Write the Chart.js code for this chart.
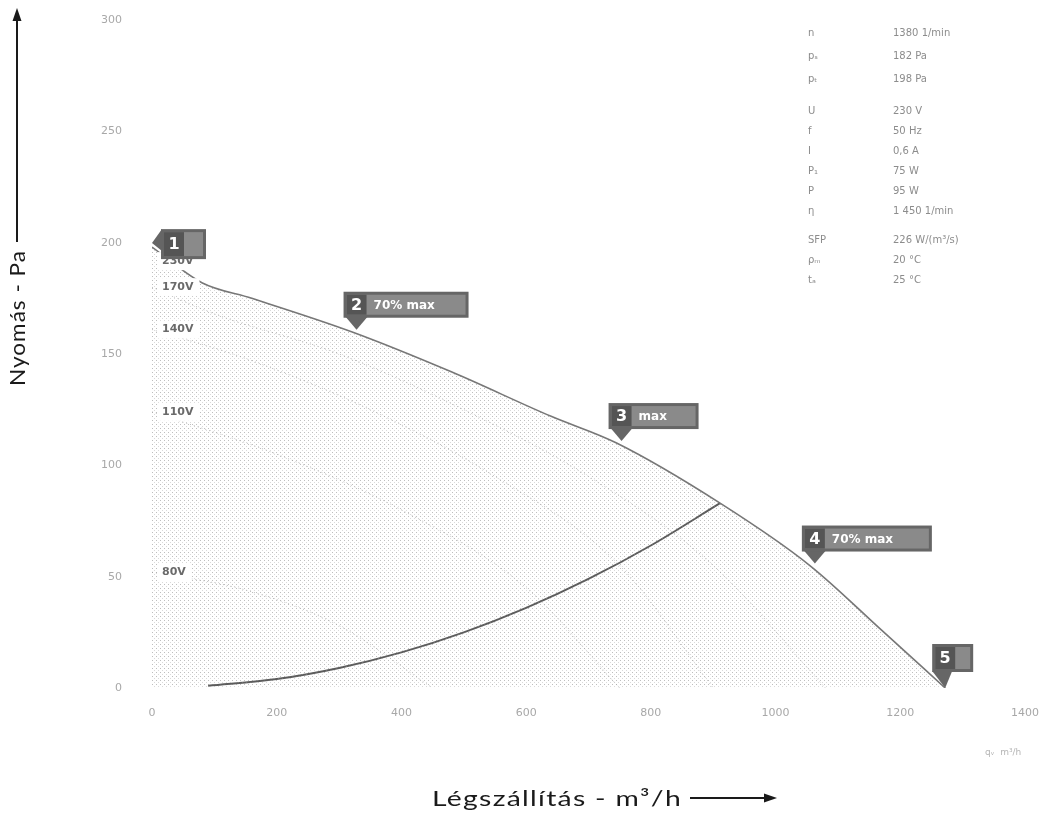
<!DOCTYPE html>
<html>
<head>
<meta charset="utf-8">
<script src="https://cdn.jsdelivr.net/npm/chart.js@4.4.1/dist/chart.umd.min.js"></script>
<style>
  html, body { margin: 0; padding: 0; background: #fff; }
  canvas { display: block; }
</style>
</head>
<body>
<canvas id="fanChart" width="1044" height="814"></canvas>
<script>
// Fan curve at 230V (air flow m3/h, pressure Pa)
var flow230 = [0, 80, 160, 320, 480, 640, 745, 911, 1055, 1170, 1272];
var pres230 = [198, 182, 175, 160, 142, 122, 110, 83, 55, 26, 0];

// Reduced voltage curves
var voltNames = ['170V', '140V', '110V', '80V'];
var voltFlow = [
    [0, 100, 300, 500, 700, 900, 1080],
    [0, 150, 350, 550, 750, 900],
    [0, 200, 400, 600, 750],
    [0, 150, 300, 450]
];
var voltPres = [
    [180, 168, 150, 125, 95, 55, 0],
    [161, 148, 125, 95, 55, 0],
    [124, 105, 80, 45, 0],
    [52, 44, 28, 0]
];

// System curve
var sysFlow = [90, 200, 300, 400, 500, 600, 700, 800, 911];
var sysPres = [1, 4, 9, 16, 25, 36, 49, 64, 83];

// Operating point callouts (index into the 230V curve)
var calloutNums = ['1', '2', '3', '4', '5'];
var calloutText = ['', '70% max', 'max', '70% max', ''];
var calloutIdx = [0, 3, 6, 8, 10];

// Data table (top right)
var tableLabels = ['n', 'pₛ', 'pₜ', '', 'U', 'f', 'I', 'P₁', 'P', 'η', '', 'SFP', 'ρₘ', 'tₐ'];
var tableValues = ['1380 1/min', '182 Pa', '198 Pa', '', '230 V', '50 Hz', '0,6 A', '75 W', '95 W', '1 450 1/min', '', '226 W/(m³/s)', '20 °C', '25 °C'];

var xTicks = [0, 200, 400, 600, 800, 1000, 1200, 1400];
var yTicks = [0, 50, 100, 150, 200, 250, 300];

function toPoints(xs, ys) {
    var pts = [];
    for (var i = 0; i < xs.length; i++) pts.push({ x: xs[i], y: ys[i] });
    return pts;
}

// dotted fill pattern
var tile = document.createElement('canvas');
tile.width = 4; tile.height = 4;
var tctx = tile.getContext('2d');
tctx.fillStyle = 'rgba(110,110,110,0.45)';
tctx.fillRect(0, 0, 1, 1);
tctx.fillStyle = 'rgba(150,150,150,0.35)';
tctx.fillRect(2, 2, 1, 1);
var ctx = document.getElementById('fanChart').getContext('2d');
var dotPattern = ctx.createPattern(tile, 'repeat');

var datasets = [];
for (var v = 0; v < voltNames.length; v++) {
    datasets.push({
        label: voltNames[v],
        data: toPoints(voltFlow[v], voltPres[v]),
        borderColor: 'rgba(140,140,140,0.6)',
        borderWidth: 1,
        borderDash: [1, 3],
        pointRadius: 0,
        cubicInterpolationMode: 'monotone',
        fill: false
    });
}
datasets.push({
    label: '230V',
    data: toPoints(flow230, pres230),
    borderColor: '#777',
    borderWidth: 1.6,
    backgroundColor: dotPattern,
    pointRadius: 0,
    cubicInterpolationMode: 'monotone',
    fill: 'origin'
});
datasets.push({
    label: 'system',
    data: toPoints(sysFlow, sysPres),
    borderColor: '#5c5c5c',
    borderWidth: 2,
    pointRadius: 0,
    cubicInterpolationMode: 'monotone',
    fill: false
});

function arrowHead(c, x, y, dir) {
    c.beginPath();
    if (dir === 'up') {
        c.moveTo(x, y); c.lineTo(x - 4.5, y + 13); c.lineTo(x + 4.5, y + 13);
    } else {
        c.moveTo(x, y); c.lineTo(x - 13, y - 4.5); c.lineTo(x - 13, y + 4.5);
    }
    c.closePath();
    c.fill();
}

// draw text stretched to a given width (wide geometric look)
function fitText(c, text, x, y, width) {
    c.save();
    c.letterSpacing = '1px';
    var w = c.measureText(text).width;
    c.translate(x, y);
    c.scale(width / w, 1);
    c.fillText(text, 0, 0);
    c.restore();
}

var overlay = {
    id: 'overlay',
    afterDatasetsDraw: function (chart) {
        var c = chart.ctx;
        var xs = chart.scales.x, ys = chart.scales.y;
        c.save();

        // voltage labels with white background
        c.font = 'bold 11px "DejaVu Sans"';
        c.textBaseline = 'middle';
        c.textAlign = 'left';
        var lblX = xs.getPixelForValue(0) + 10;
        var labels = ['230V'].concat(voltNames);
        var starts = [pres230[0]];
        for (var v = 0; v < voltPres.length; v++) starts.push(voltPres[v][0]);
        for (var i = 0; i < labels.length; i++) {
            var ly = ys.getPixelForValue(starts[i]) + (i === 0 ? 14 : 0);
            var w = c.measureText(labels[i]).width;
            c.fillStyle = '#fff';
            c.fillRect(lblX - 4, ly - 9, w + 10, 18);
            c.fillStyle = '#6a6a6a';
            c.fillText(labels[i], lblX, ly);
        }

        // callouts
        var widths = [45, 125, 90, 130, 41];
        for (var k = 0; k < calloutNums.length; k++) {
            var ax = xs.getPixelForValue(flow230[calloutIdx[k]]);
            var ay = ys.getPixelForValue(pres230[calloutIdx[k]]);
            var bx, by, bw = widths[k], bh = 26;
            c.fillStyle = '#666';
            c.beginPath();
            if (k === 0) {
                bx = ax + 9; by = ay - 18; bh = 30;
                c.moveTo(ax, ay - 4); c.lineTo(bx + 1, by); c.lineTo(bx + 1, by + 22);
            } else if (k === 4) {
                bx = ax - 13; by = ay - 44; bh = 28;
                c.moveTo(bx, by + bh - 1); c.lineTo(bx + 20, by + bh - 1); c.lineTo(ax, ay);
            } else {
                bx = ax - 8; by = ay - 40;
                c.moveTo(bx + 2, by + bh - 1); c.lineTo(bx + 24, by + bh - 1); c.lineTo(ax + 5, ay - 2);
            }
            c.closePath();
            c.fill();
            c.fillRect(bx, by, bw, bh);
            c.fillStyle = '#8a8a8a';
            c.fillRect(bx + 3, by + 3, bw - 6, bh - 6);
            c.fillStyle = '#555';
            c.fillRect(bx + 3, by + 3, 20, bh - 6);
            c.fillStyle = '#fff';
            c.font = 'bold 16px "DejaVu Sans"';
            c.textAlign = 'center';
            c.fillText(calloutNums[k], bx + 13, by + bh / 2 + 1);
            if (calloutText[k]) {
                c.font = 'bold 12px "DejaVu Sans"';
                c.textAlign = 'left';
                c.fillText(calloutText[k], bx + 30, by + bh / 2 + 1);
            }
        }

        // data table
        c.font = '10px "DejaVu Sans"';
        c.fillStyle = '#8c8c8c';
        c.textAlign = 'left';
        var ty = 33;
        for (var r = 0; r < tableLabels.length; r++) {
            if (tableLabels[r] === '') { ty += 9; continue; }
            c.fillText(tableLabels[r], 808, ty);
            c.fillText(tableValues[r], 893, ty);
            ty += (r < 3) ? 23 : 20;
        }

        // tiny unit text bottom right
        c.font = '9px "DejaVu Sans"';
        c.fillStyle = '#b5b5b5';
        c.fillText('qᵥ  m³/h', 985, 753);

        // axis titles with arrows
        c.fillStyle = '#1a1a1a';
        c.strokeStyle = '#1a1a1a';
        c.lineWidth = 2;
        c.font = '22px Lato';
        c.textAlign = 'left';
        c.textBaseline = 'alphabetic';
        fitText(c, 'Légszállítás - m³/h', 432, 806, 250);
        c.beginPath(); c.moveTo(690, 798); c.lineTo(765, 798); c.stroke();
        arrowHead(c, 777, 798, 'right');

        c.save();
        c.translate(25, 386);
        c.rotate(-Math.PI / 2);
        fitText(c, 'Nyomás - Pa', 0, 0, 136);
        c.restore();
        c.beginPath(); c.moveTo(17, 242); c.lineTo(17, 18); c.stroke();
        arrowHead(c, 17, 8, 'up');

        c.restore();
    }
};

new Chart(ctx, {
    type: 'line',
    data: { datasets: datasets },
    options: {
        responsive: false,
        animation: false,
        plugins: { legend: { display: false }, tooltip: { enabled: false } },
        layout: { padding: { top: 20, right: 19, left: 0, bottom: 0 } },
        scales: {
            x: {
                type: 'linear', min: 0, max: 1400,
                afterBuildTicks: function (s) { s.ticks = xTicks.map(function (v) { return { value: v }; }); },
                afterFit: function (s) { s.height = 126; },
                ticks: {
                    color: '#a8a8a8', font: { size: 11, family: 'DejaVu Sans' }, padding: 4, maxRotation: 0,
                    callback: function (v) { return String(v); }
                },
                grid: { display: true, drawOnChartArea: false, drawTicks: true, tickLength: 15, color: 'rgba(0,0,0,0)' },
                border: { display: false }
            },
            y: {
                min: 0, max: 300,
                afterBuildTicks: function (s) { s.ticks = yTicks.map(function (v) { return { value: v }; }); },
                afterFit: function (s) { s.width = 152; },
                ticks: { color: '#a8a8a8', font: { size: 11, family: 'DejaVu Sans' }, padding: 4 },
                grid: { display: true, drawOnChartArea: false, drawTicks: true, tickLength: 26, color: 'rgba(0,0,0,0)' },
                border: { display: false }
            }
        }
    },
    plugins: [overlay]
});
</script>
</body>
</html>
